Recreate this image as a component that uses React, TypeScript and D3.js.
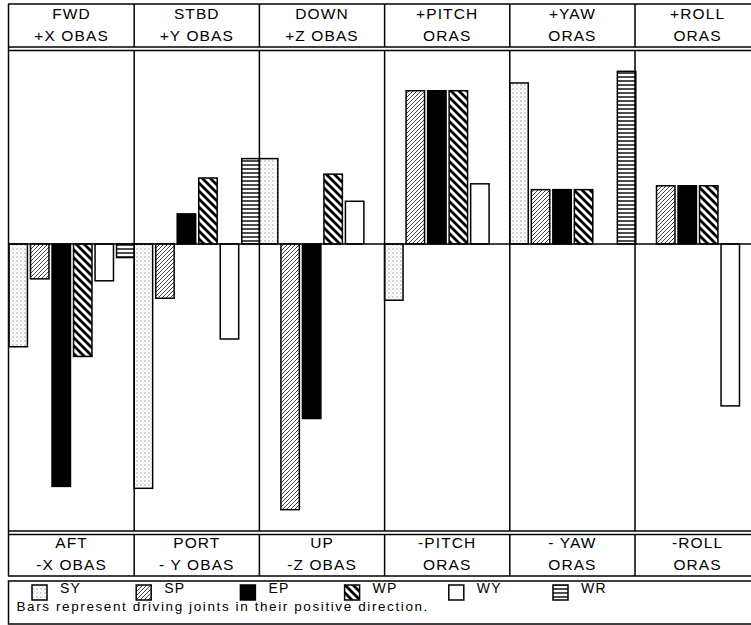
import React from "react";
import * as d3 from "d3";

const groupsTop = [
  ["FWD", "+X OBAS"],
  ["STBD", "+Y OBAS"],
  ["DOWN", "+Z OBAS"],
  ["+PITCH", "ORAS"],
  ["+YAW", "ORAS"],
  ["+ROLL", "ORAS"],
];
const groupsBottom = [
  ["AFT", "-X OBAS"],
  ["PORT", "- Y OBAS"],
  ["UP", "-Z OBAS"],
  ["-PITCH", "ORAS"],
  ["- YAW", "ORAS"],
  ["-ROLL", "ORAS"],
];
const series = ["SY", "SP", "EP", "WP", "WY", "WR"];
const SY = [-0.53, -1.26, 0.44, -0.29, 0.83, 0];
const SP = [-0.18, -0.28, -1.37, 0.79, 0.28, 0.3];
const EP = [-1.25, 0.155, -0.9, 0.79, 0.28, 0.3];
const WP = [-0.58, 0.34, 0.36, 0.79, 0.28, 0.3];
const WY = [-0.19, -0.49, 0.22, 0.31, 0, -0.835];
const WR = [-0.07, 0.44, 0, 0, 0.89, 0];
const values = [SY, SP, EP, WP, WY, WR];
const legendNote = "Bars represent driving joints in their positive direction.";

const fills: Record<string, string> = {
  SY: "url(#pSY)",
  SP: "url(#pSP)",
  EP: "#000",
  WP: "url(#pWP)",
  WY: "#fff",
  WR: "url(#pWR)",
};

export default function App() {
  const W = 751;
  const H = 625;
  const left = 9;
  const colW = 125.2;
  const plotTop = 50;
  const plotBottom = 531;
  const y = d3.scaleLinear().domain([-1.48, 1]).range([plotBottom, plotTop]);
  const x = d3
    .scaleBand<number>()
    .domain(d3.range(6))
    .range([left, left + colW * 6]);
  const inner = d3
    .scaleBand<string>()
    .domain(series)
    .range([0, 126])
    .paddingInner(3 / 21)
    .paddingOuter(0)
    .align(0);
  const font = "'Liberation Sans', Arial, Helvetica, sans-serif";
  const lw = 1.5;

  return (
    <svg
      width={W}
      height={H}
      style={{ position: "absolute", left: 0, top: 0, display: "block", background: "#fff" }}
    >
      <defs>
        <pattern id="pSY" patternUnits="userSpaceOnUse" width="4" height="4">
          <rect width="4" height="4" fill="#fff" />
          <circle cx="1" cy="1" r="0.7" fill="#888" />
          <circle cx="3" cy="3" r="0.5" fill="#bbb" />
        </pattern>
        <pattern id="pSP" patternUnits="userSpaceOnUse" width="4" height="4">
          <rect width="4" height="4" fill="#fff" />
          <path d="M-1,1 l2,-2 M0,4 l4,-4 M3,5 l2,-2" stroke="#444" strokeWidth="1" />
        </pattern>
        <pattern id="pWP" patternUnits="userSpaceOnUse" width="8" height="8">
          <rect width="8" height="8" fill="#fff" />
          <path d="M-2,-2 l12,12 M-2,6 l4,4 M6,-2 l4,4" stroke="#000" strokeWidth="2.8" />
        </pattern>
        <pattern id="pWR" patternUnits="userSpaceOnUse" width="4" height="4">
          <rect width="4" height="4" fill="#fff" />
          <line x1="0" x2="4" y1="1" y2="1" stroke="#000" strokeWidth="1.4" />
        </pattern>
      </defs>

      {/* bars */}
      {groupsTop.map((_, gi) =>
        series.map((s, si) => {
          const v = values[si][gi];
          if (!v) return null;
          const x0 = (x(gi) as number) + (inner(s) as number);
          const y0 = Math.min(y(v), y(0));
          const h = Math.abs(y(v) - y(0));
          return (
            <rect
              key={`${gi}-${s}`}
              x={x0}
              y={y0}
              width={inner.bandwidth()}
              height={h}
              fill={fills[s]}
              stroke="#000"
              strokeWidth={lw}
            />
          );
        })
      )}

      {/* frame */}
      <line x1={8} x2={W} y1={4} y2={4} stroke="#000" strokeWidth={lw} />
      <line x1={8} x2={W} y1={47} y2={47} stroke="#000" strokeWidth={1.3} />
      <line x1={8} x2={W} y1={50.5} y2={50.5} stroke="#000" strokeWidth={1.3} />
      <line x1={8} x2={W} y1={y(0)} y2={y(0)} stroke="#000" strokeWidth={lw} />
      <line x1={8} x2={W} y1={531} y2={531} stroke="#000" strokeWidth={1.3} />
      <line x1={8} x2={W} y1={534.5} y2={534.5} stroke="#000" strokeWidth={1.3} />
      <line x1={8} x2={W} y1={576} y2={576} stroke="#000" strokeWidth={lw} />
      <line x1={8.5} x2={8.5} y1={4} y2={576} stroke="#000" strokeWidth={lw} />
      {d3.range(1, 7).map((i) => {
        const xx = left + colW * i;
        return (
          <g key={`v${i}`}>
            <line x1={xx} x2={xx} y1={4} y2={47} stroke="#000" strokeWidth={lw} />
            <line x1={xx} x2={xx} y1={50.5} y2={531} stroke="#000" strokeWidth={lw} />
            <line x1={xx} x2={xx} y1={534.5} y2={576} stroke="#000" strokeWidth={lw} />
          </g>
        );
      })}

      {/* header & footer labels */}
      {groupsTop.map((g, i) => {
        const cx = (x(i) as number) + colW / 2;
        return (
          <g key={`h${i}`} fontFamily={font} fontSize={15.5} textAnchor="middle" letterSpacing={1.1}>
            <text x={cx} y={19}>{g[0]}</text>
            <text x={cx} y={40.5}>{g[1]}</text>
          </g>
        );
      })}
      {groupsBottom.map((g, i) => {
        const cx = (x(i) as number) + colW / 2;
        return (
          <g key={`b${i}`} fontFamily={font} fontSize={15.5} textAnchor="middle" letterSpacing={1.1}>
            <text x={cx} y={548}>{g[0]}</text>
            <text x={cx} y={569.5}>{g[1]}</text>
          </g>
        );
      })}

      {/* legend */}
      <rect x={8.5} y={581} width={W} height={43} fill="none" stroke="#000" strokeWidth={lw} />
      {series.map((s, i) => {
        const lx = 32 + i * 104.2;
        return (
          <g key={`l${s}`}>
            <rect x={lx} y={585} width={15} height={15} fill={fills[s]} stroke="#000" strokeWidth={lw} />
            <text x={lx + 28} y={593} fontFamily={font} fontSize={14} letterSpacing={1.2}>
              {s}
            </text>
          </g>
        );
      })}
      <text x={16.5} y={611} fontFamily={font} fontSize={13.5} letterSpacing={1.6}>
        {legendNote}
      </text>
    </svg>
  );
}
